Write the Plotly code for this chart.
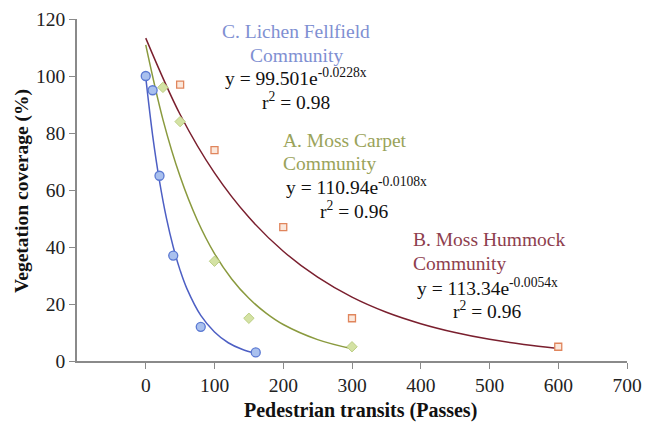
import plotly.graph_objects as go

# ---- data ----
c_x = [0, 10, 20, 40, 80, 160]
c_y = [100, 95, 65, 37, 12, 3]
a_x = [25, 50, 100, 150, 300]
a_y = [96, 84, 35, 15, 5]
b_x = [50, 100, 200, 300, 600]
b_y = [97, 74, 47, 15, 5]

# trend lines
c_fit_x = [0, 10, 20, 30, 40, 50, 60, 80, 100, 120, 140, 160]
c_fit_y = [99.5, 79.2, 63.1, 50.2, 40.0, 31.8, 25.3, 16.0, 10.2, 6.4, 4.1, 2.6]
a_fit_x = [0, 25, 50, 75, 100, 125, 150, 175, 200, 250, 300]
a_fit_y = [110.9, 84.7, 64.7, 49.4, 37.7, 28.8, 22.0, 16.8, 12.8, 7.5, 4.3]
b_fit_x = [0, 50, 100, 150, 200, 250, 300, 350, 400, 450, 500, 550, 600]
b_fit_y = [113.3, 86.5, 66.0, 50.4, 38.5, 29.4, 22.4, 17.1, 13.1, 10.0, 7.6, 5.8, 4.4]

x_ticks = [0, 100, 200, 300, 400, 500, 600, 700]
y_ticks = [0, 20, 40, 60, 80, 100, 120]

FONT = "'Liberation Serif', Tinos, 'Times New Roman', 'DejaVu Serif', serif"

fig = go.Figure()

fig.add_trace(go.Scatter(x=b_fit_x, y=b_fit_y, mode="lines", line=dict(color="#7a1f2e", width=1.5, shape="spline"), showlegend=False))
fig.add_trace(go.Scatter(x=a_fit_x, y=a_fit_y, mode="lines", line=dict(color="#8a9a3e", width=1.5, shape="spline"), showlegend=False))
fig.add_trace(go.Scatter(x=c_fit_x, y=c_fit_y, mode="lines", line=dict(color="#4d5fc4", width=1.5, shape="spline"), showlegend=False))

fig.add_trace(go.Scatter(x=b_x, y=b_y, mode="markers",
                         marker=dict(symbol="square", size=7, color="#fbe8dc", line=dict(color="#e0855c", width=1.3)),
                         showlegend=False))
fig.add_trace(go.Scatter(x=a_x, y=a_y, mode="markers",
                         marker=dict(symbol="diamond", size=8, color="#d4e2a4", line=dict(color="#bccf84", width=1)),
                         showlegend=False))
fig.add_trace(go.Scatter(x=c_x, y=c_y, mode="markers",
                         marker=dict(symbol="circle", size=9, color="#a9c0ee", line=dict(color="#5b79d2", width=1.3)),
                         showlegend=False))

L, R, T, B = 77, 627, 19, 361


def px(xp, yp):
    return (xp - L) / (R - L), (B - yp) / (B - T)


def note(text, xp, yp, color, anchor="center", size=19.5):
    x, y = px(xp, yp)
    fig.add_annotation(text=text, x=x, y=y, xref="paper", yref="paper", showarrow=False,
                       xanchor=anchor, yanchor="middle", font=dict(family=FONT, size=size, color=color))


C_COL, A_COL, B_COL, K = "#7f90d2", "#9aa35a", "#8e3e4e", "#111111"

note("C. Lichen Fellfield", 296, 32, C_COL)
note("Community", 296, 55, C_COL)
note("y = 99.501e<sup>-0.0228x</sup>", 296, 77, K)
note("r<sup>2</sup> = 0.98", 296, 101, K)

note("A. Moss Carpet", 281, 140, A_COL, "left")
note("Community", 281, 163, A_COL, "left")
note("y = 110.94e<sup>-0.0108x</sup>", 356, 186, K)
note("r<sup>2</sup> = 0.96", 354, 210, K)

note("B. Moss Hummock", 411, 240, B_COL, "left")
note("Community", 411, 263, B_COL, "left")
note("y = 113.34e<sup>-0.0054x</sup>", 487, 287, K)
note("r<sup>2</sup> = 0.96", 487, 310, K)

# axis titles
fig.add_annotation(text="<b>Pedestrian transits (Passes)</b>", x=px(360, 0)[0], y=px(0, 410)[1],
                   xref="paper", yref="paper", showarrow=False, xanchor="center", yanchor="middle",
                   font=dict(family=FONT, size=20, color="#111111"))
fig.add_annotation(text="<b>Vegetation coverage (%)</b>", x=px(22, 0)[0], y=px(0, 191)[1], textangle=-90,
                   xref="paper", yref="paper", showarrow=False, xanchor="center", yanchor="middle",
                   font=dict(family=FONT, size=19.5, color="#111111"))

axis_common = dict(showgrid=False, zeroline=False, showline=True, linecolor="#8a8a8a", linewidth=1.5,
                   ticks="outside", ticklen=6, tickcolor="#8a8a8a", tickwidth=1.3, automargin=False,
                   tickfont=dict(family=FONT, size=19.5, color="#222222"))

fig.update_layout(
    width=645, height=422,
    font=dict(family=FONT),
    margin=dict(l=L, r=645 - R, t=T, b=422 - B),
    paper_bgcolor="white", plot_bgcolor="white",
    xaxis=dict(range=[-100, 700], tickvals=x_ticks, ticktext=[str(v) for v in x_ticks], **axis_common),
    yaxis=dict(range=[0, 120], tickvals=y_ticks, ticktext=[str(v) for v in y_ticks], **axis_common),
)

fig.write_html("out.html")
